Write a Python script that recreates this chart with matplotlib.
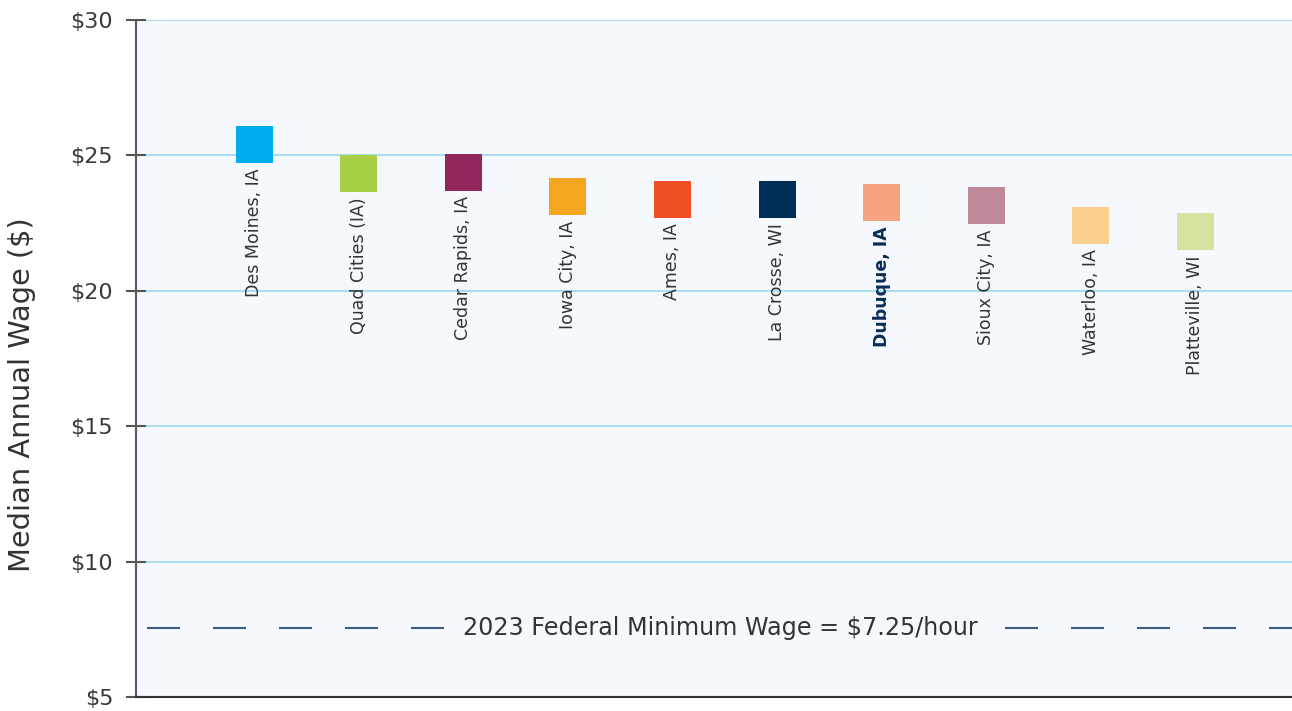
import matplotlib
matplotlib.use('Agg')
import matplotlib.pyplot as plt
import numpy as np

# ---- data ----
cities = ["Des Moines, IA", "Quad Cities (IA)", "Cedar Rapids, IA", "Iowa City, IA",
          "Ames, IA", "La Crosse, WI", "Dubuque, IA", "Sioux City, IA",
          "Waterloo, IA", "Platteville, WI"]
wages = [25.40, 24.34, 24.38, 23.49, 23.38, 23.38, 23.27, 23.16, 22.42, 22.20]
colors = ["#00AEEF", "#A8CF45", "#92275E", "#F4A620", "#F04E23",
          "#002D56", "#F6A47F", "#C0899A", "#F9D08D", "#D3E3A0"]
highlight = "Dubuque, IA"
y_ticks = [5, 10, 15, 20, 25, 30]
y_tick_labels = ["$5", "$10", "$15", "$20", "$25", "$30"]
y_label = "Median Annual Wage ($)"
min_wage_label = "2023 Federal Minimum Wage = $7.25/hour"
min_wage_line = 7.55

plt.rcParams['font.family'] = ['DejaVu Sans']

W, H = 1292, 711
fig = plt.figure(figsize=(W / 100, H / 100), dpi=100)
ax = fig.add_axes([135.7 / W, 14 / H, 1 - 135.7 / W, 677 / H])
ax.set_facecolor('#f5f9fd')
ax.set_xlim(-1.134, 9.925)
ax.set_ylim(5, 30)

x = np.arange(len(cities))
sq_w, sq_h = 0.354, 1.366
w_arr = np.array(wages)
ax.bar(x, sq_h, bottom=w_arr - sq_h / 2, width=sq_w, color=colors, zorder=3)

for xi, w, c in zip(x, w_arr, cities):
    bold = c == highlight
    ax.annotate(c, xy=(xi, w - sq_h / 2), xytext=(0, -4), textcoords='offset points',
                rotation=90, ha='center', va='top', fontsize=12.5,
                color='#0a2d57' if bold else '#333333',
                fontweight='bold' if bold else 'normal', zorder=4)

ax.set_yticks(y_ticks)
ax.set_yticklabels(y_tick_labels)
ax.grid(axis='y', color='#aadcf2', lw=1.5, zorder=1)
ax.set_axisbelow(True)
ax.tick_params(axis='y', direction='inout', length=14.4, width=1.5, color='#555555',
               pad=9, labelsize=16, labelcolor='#3a3a3a')
ax.tick_params(axis='x', bottom=False, labelbottom=False)
for s in ['top', 'right']:
    ax.spines[s].set_visible(False)
ax.spines['left'].set_color('#5a5a5a')
ax.spines['left'].set_linewidth(1.5)
ax.spines['bottom'].set_color('#333333')
ax.spines['bottom'].set_linewidth(1.5)

ytr = ax.get_yaxis_transform()
ax.plot([0.0098, 1.0], [min_wage_line, min_wage_line], transform=ytr, color='#3d5a80',
        lw=1.5, dashes=(15.84, 15.84), zorder=2)
ax.text(0.5053, min_wage_line, min_wage_label, transform=ytr, ha='center', va='center',
        fontsize=17.2, color='#333333',
        bbox=dict(facecolor='#f5f9fd', edgecolor='none', pad=10), zorder=3)

fig.text(22 / W, 1 - 394.5 / H, y_label, rotation=90, ha='center', va='center',
         fontsize=20.8, color='#333333')

fig.savefig('out.png', dpi=100)
